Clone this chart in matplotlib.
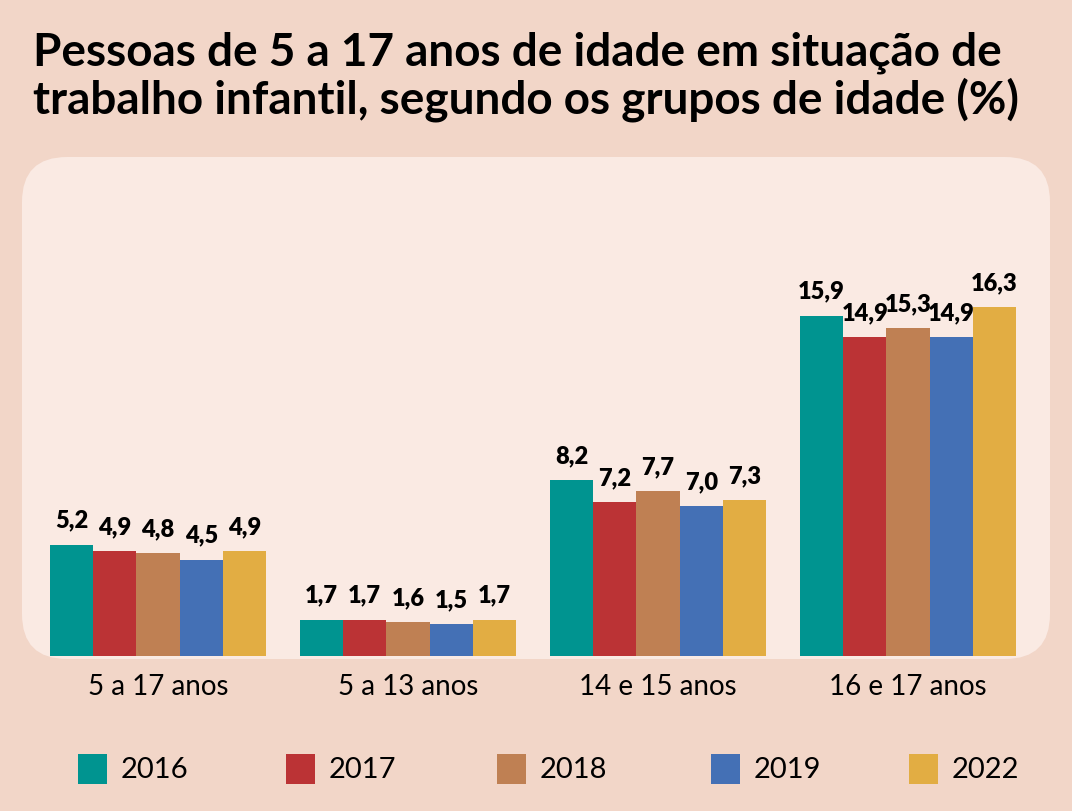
import matplotlib.pyplot as plt
from matplotlib.patches import FancyBboxPatch, Rectangle
import numpy as np

# Dados do grafico
grupos = ["5 a 17 anos", "5 a 13 anos", "14 e 15 anos", "16 e 17 anos"]
anos = ["2016", "2017", "2018", "2019", "2022"]
v2016 = [5.2, 1.7, 8.2, 15.9]
v2017 = [4.9, 1.7, 7.2, 14.9]
v2018 = [4.8, 1.6, 7.7, 15.3]
v2019 = [4.5, 1.5, 7.0, 14.9]
v2022 = [4.9, 1.7, 7.3, 16.3]
valores = [v2016, v2017, v2018, v2019, v2022]
cores = ["#009490", "#bb3335", "#bf8053", "#4470b5", "#e2ad43"]

fundo = "#f2d6c8"
painel = "#faeae3"

plt.rcParams["font.family"] = ["Lato", "DejaVu Sans"]

fig = plt.figure(figsize=(10.72, 8.12), dpi=100, facecolor=fundo)

# Painel arredondado (coordenadas em pixels), atras dos eixos
caixa = FancyBboxPatch((22, 152), 1028, 502, boxstyle="round,pad=0,rounding_size=45",
                       transform=None, facecolor=painel, edgecolor="none", zorder=-5)
fig.patches.append(caixa)

# Titulo
fig.text(33 / 1072, 1 - 31 / 812,
         "Pessoas de 5 a 17 anos de idade em situação de\ntrabalho infantil, segundo os grupos de idade (%)",
         fontsize=33, fontweight="bold", va="top", ha="left", linespacing=1.1)

ax = fig.add_axes([22 / 1072, 155 / 812, 1028 / 1072, 487 / 812], zorder=2)
ax.set_facecolor("none")

x = np.arange(len(grupos))
largura = 0.173
for i, (ano, vals, cor) in enumerate(zip(anos, valores, cores)):
    pos = x + (i - 2) * largura
    barras = ax.bar(pos, vals, largura, color=cor, label=ano, zorder=2)
    rotulos = [f"{v:.1f}".replace(".", ",") for v in vals]
    ax.bar_label(barras, labels=rotulos, padding=10, fontsize=17, fontweight="heavy")

ax.set_xlim((22 - 158) / 250, (1050 - 158) / 250)
ax.set_ylim(0, 22.75)
ax.set_xticks(x)
ax.set_xticklabels(grupos, fontsize=20)
ax.tick_params(axis="x", length=0, pad=12)
ax.set_yticks([])
for s in ax.spines.values():
    s.set_visible(False)

# Legenda manual
leg_x = [78, 286, 497, 711, 909]
for lx, ano, cor in zip(leg_x, anos, cores):
    fig.patches.append(Rectangle((lx, 812 - 785), 29, 30, transform=None,
                                 facecolor=cor, edgecolor="none"))
    fig.text((lx + 43) / 1072, 1 - 770 / 812, ano, fontsize=21, va="center", ha="left")

fig.savefig("out.png", dpi=100, facecolor=fundo)
